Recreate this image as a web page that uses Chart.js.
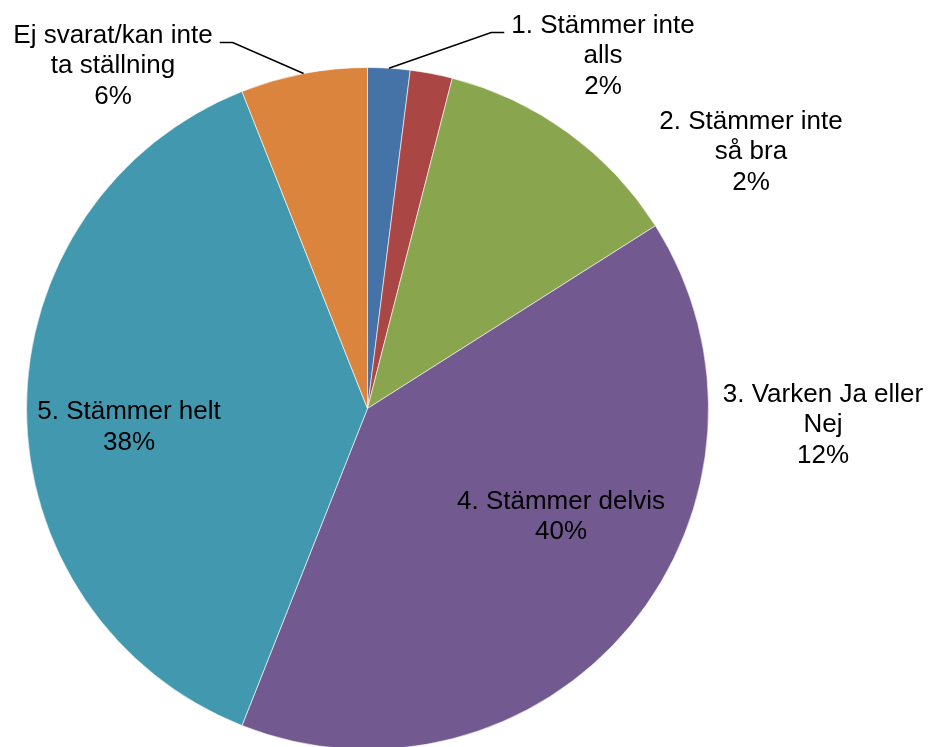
<!DOCTYPE html>
<html>
<head>
<meta charset="utf-8">
<script src="https://cdn.jsdelivr.net/npm/chart.js@4.4.1/dist/chart.umd.min.js"></script>
<style>
  html, body { margin: 0; padding: 0; background: #fff; overflow: hidden; }
  #wrap { width: 935px; height: 760px; }
</style>
</head>
<body>
<div id="wrap"><canvas id="myChart" width="935" height="760"></canvas></div>
<script>
var categories = ['1. Stämmer inte alls', '2. Stämmer inte så bra', '3. Varken Ja eller Nej',
                  '4. Stämmer delvis', '5. Stämmer helt', 'Ej svarat/kan inte ta ställning'];
var values = [2, 2, 12, 40, 38, 6];
var sliceColors = ['#4572A7', '#AA4643', '#89A54E', '#72598F', '#4298AF', '#DB843D'];

// how each category label is broken over lines
var labelLines = [
  ['1. Stämmer inte', 'alls'],
  ['2. Stämmer inte', 'så bra'],
  ['3. Varken Ja eller', 'Nej'],
  ['4. Stämmer delvis'],
  ['5. Stämmer helt'],
  ['Ej svarat/kan inte', 'ta ställning']
];
// label block centres, px from the pie centre
var labelOffsets = [[235.5, -352.5], [383.5, -256.5], [455.5, 16.5], [193.5, 108.5], [-238.5, 19], [-254.5, -342.5]];
var leaderLines = [true, false, false, false, false, true];

var total = values.reduce(function(a, b) { return a + b; }, 0);

var pieLabels = {
  id: 'pieLabels',
  afterDatasetsDraw: function(chart) {
    var ctx = chart.ctx;
    var meta = chart.getDatasetMeta(0);
    ctx.save();
    ctx.font = '26px "Liberation Sans", Arial, sans-serif';
    ctx.fillStyle = '#000';
    ctx.strokeStyle = '#000';
    ctx.lineWidth = 1.5;
    ctx.textAlign = 'center';
    ctx.textBaseline = 'middle';
    meta.data.forEach(function(arc, i) {
      var p = arc.getProps(['x', 'y', 'startAngle', 'endAngle', 'outerRadius'], true);
      var lines = labelLines[i].concat([Math.round(values[i] / total * 100) + '%']);
      var cx = p.x + labelOffsets[i][0];
      var cy = p.y + labelOffsets[i][1];
      var lineH = 30.5;
      var top = cy - (lines.length - 1) * lineH / 2;
      for (var k = 0; k < lines.length; k++) {
        ctx.fillText(lines[k], cx, top + k * lineH);
      }
      if (leaderLines[i]) {
        var mid = (p.startAngle + p.endAngle) / 2;
        var ax = p.x + Math.cos(mid) * p.outerRadius;
        var ay = p.y + Math.sin(mid) * p.outerRadius;
        var half = ctx.measureText(lines[0]).width / 2;
        var side = ax < cx ? -1 : 1;
        var edge = cx + side * half;
        var ly = top + 7;
        ctx.beginPath();
        ctx.moveTo(ax, ay);
        ctx.lineTo(edge + side * 20, ly);
        ctx.lineTo(edge + side * 7, ly);
        ctx.stroke();
      }
    });
    ctx.restore();
  }
};

var ctx = document.getElementById('myChart').getContext('2d');
var chart = new Chart(ctx, {
  type: 'pie',
  data: {
    labels: categories,
    datasets: [{
      data: values,
      backgroundColor: sliceColors,
      borderColor: 'rgba(255,255,255,0.6)',
      borderWidth: 1,
      radius: 341
    }]
  },
  options: {
    responsive: false,
    animation: false,
    layout: { padding: { left: 26.5, right: 226.5, top: 67.5, bottom: 10.5 } },
    plugins: {
      legend: { display: false },
      tooltip: { enabled: false }
    }
  },
  plugins: [pieLabels]
});
</script>
</body>
</html>
